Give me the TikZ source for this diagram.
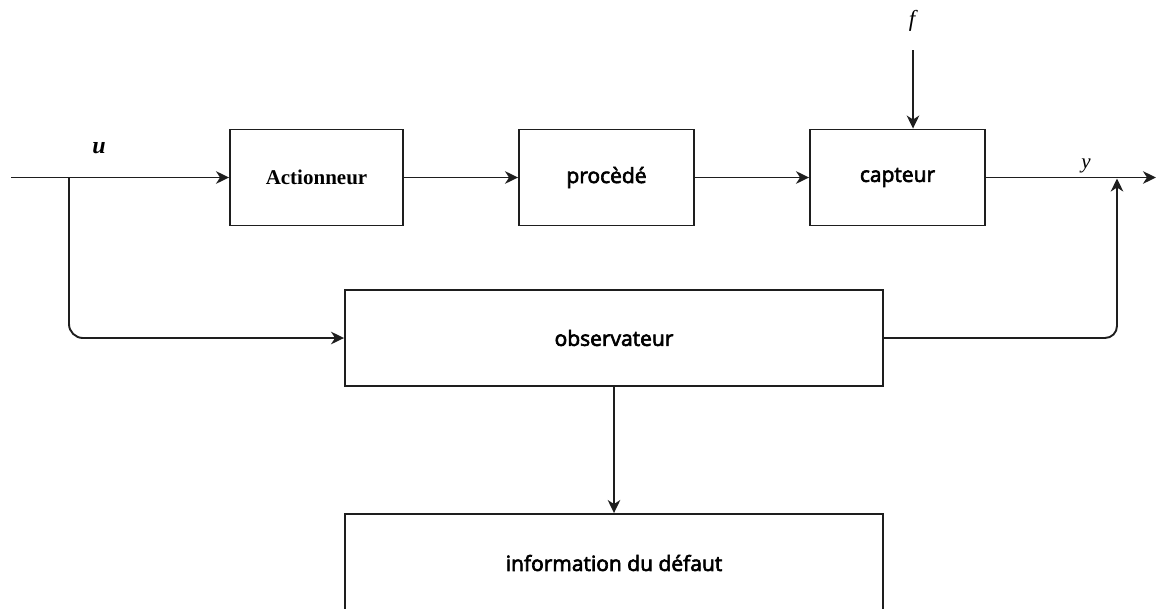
\documentclass[tikz,border=0pt]{standalone}
\usepackage{fontspec}
\usetikzlibrary{arrows.meta}
\newfontfamily\blocksans{Open Sans}[FakeBold=3]
\newfontfamily\blockserif{Liberation Serif}
\definecolor{linec}{RGB}{30,30,30}
\tikzset{
  block/.style={draw=linec, line width=1.9pt, minimum height=96pt, inner sep=0pt, fill=white},
  sanslabel/.style={font=\blocksans\fontsize{21}{24}\selectfont},
  seriflabel/.style={font=\blockserif\bfseries\fontsize{21}{24}\selectfont},
  sig/.style={font=\blockserif\itshape\fontsize{23}{25}\selectfont, inner sep=0pt},
  arr/.style={draw=linec, line width=1.9pt, -{Stealth[length=13pt,width=12.5pt,inset=4pt]}},
}
\begin{document}
\begin{tikzpicture}[x=1pt,y=-1pt]
\clip (0,0) rectangle (1156,608);
\fill[white] (0,0) rectangle (1156,608);

% blocks of the main chain
\node[block, seriflabel, minimum width=173pt] (act) at (316.5,177.5) {Actionneur};
\node[block, sanslabel, minimum width=175pt] (proc) at (606.5,177.5) {procèdé};
\node[block, sanslabel, minimum width=175pt] (cap) at (897.5,177.5) {capteur};

% observer and fault information
\node[block, sanslabel, minimum width=538pt] (obs) at (614,338) {observateur};
\node[block, sanslabel, minimum width=538pt, minimum height=98pt] (info) at (614,563) {information du défaut};

% free ends and junctions
\coordinate (uin) at (11,177.5);
\coordinate (ubr) at (69,177.5);
\coordinate (fin) at (913,50);
\coordinate (yout) at (1156,177.5);
\coordinate (yj) at (1117,178.5);

% signal labels
\node[sig, font=\blockserif\bfseries\itshape\fontsize{24}{26}\selectfont] (ulab) at (99,148) {u};
\node[sig] (flab) at (912,21) {f};
\node[sig, font=\blockserif\itshape\fontsize{21}{23}\selectfont] (ylab) at (1086,166) {y};

% connectors
\draw[arr] (uin) -- (act.west);
\draw[arr] (act.east) -- (proc.west);
\draw[arr] (proc.east) -- (cap.west);
\draw[arr] (cap.east) -- (yout);
\draw[arr] (fin) -- (fin |- cap.north);
\draw[arr, rounded corners=14pt] (ubr) |- (obs.west);
\draw[arr, rounded corners=12pt] (obs.east) -| (yj);
\draw[arr] (obs.south) -- (info.north);
\end{tikzpicture}
\end{document}
